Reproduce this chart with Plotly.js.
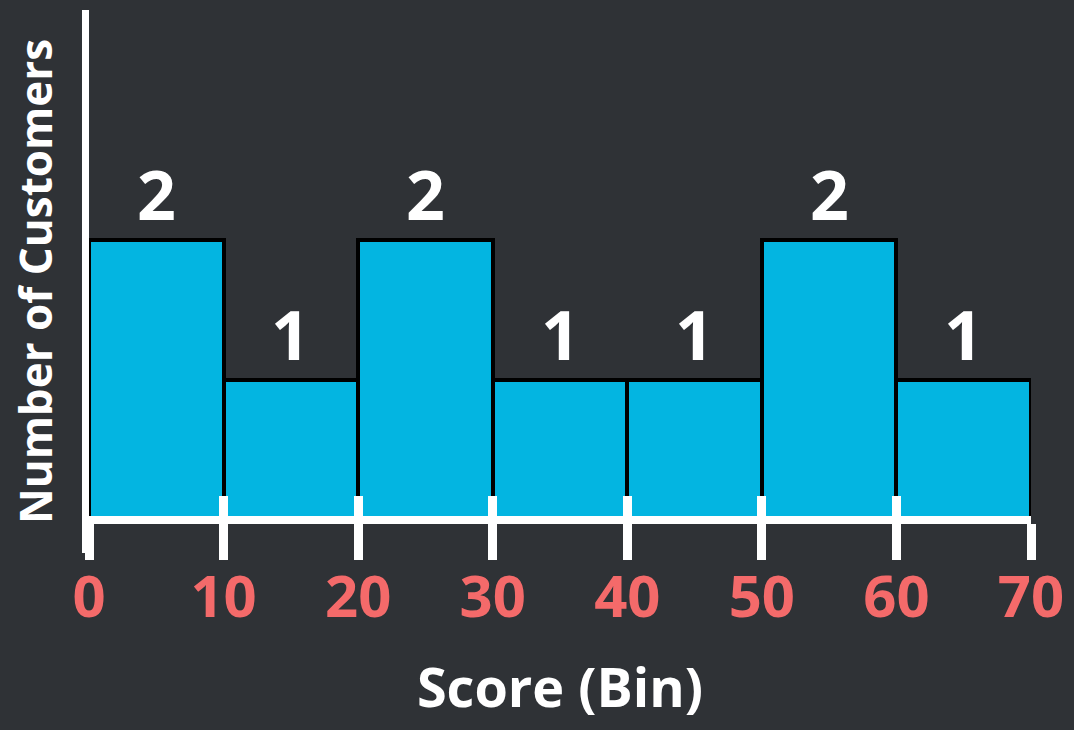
<!DOCTYPE html>
<html>
<head>
<meta charset="utf-8">
<script src="https://cdn.plot.ly/plotly-3.0.1.min.js"></script>
<style>
  html, body { margin: 0; padding: 0; background: #2f3236; }
  #chart { width: 1074px; height: 730px; }
</style>
</head>
<body>
<div id="chart"></div>
<script>
// Data
const binCenters = [5, 15, 25, 35, 45, 55, 65];
const binWidth = 10;
const counts = [2, 1, 2, 1, 1, 2, 1];
const tickValues = [0, 10, 20, 30, 40, 50, 60, 70];
const tickLabels = ["0", "10", "20", "30", "40", "50", "60", "70"];
const xTitle = "Score (Bin)";
const yTitle = "Number of Customers";

const yMin = -0.236, yMax = 3.64;
const axisPos = (0 - yMin) / (yMax - yMin);

const FONT = "'Open Sans', 'DejaVu Sans', sans-serif";
const WHITE = "#ffffff";
const SALMON = "#f46a6a";

const trace = {
  type: "bar",
  x: binCenters,
  y: counts,
  width: binCenters.map(() => binWidth),
  marker: { color: "#03b5e1", line: { color: "#000000", width: 4 } },
  hoverinfo: "x+y",
  showlegend: false
};

const annotations = binCenters.map((c, i) => ({
  x: c, y: counts[i], xref: "x", yref: "y",
  text: String(counts[i]),
  showarrow: false, yanchor: "bottom", yshift: -2,
  font: { family: FONT, size: 68, color: WHITE, weight: 700 }
}));

const layout = {
  width: 1074, height: 730,
  paper_bgcolor: "#2f3236",
  plot_bgcolor: "rgba(0,0,0,0)",
  margin: { l: 89, r: 43, t: 10, b: 177 },
  bargap: 0,
  xaxis: {
    range: [0, 70],
    anchor: "free", position: axisPos,
    showline: true, linecolor: WHITE, linewidth: 8,
    ticks: "outside", ticklen: 36, tickwidth: 9, tickcolor: WHITE,
    tickvals: tickValues, ticktext: tickLabels,
    ticklabelstandoff: -13,
    tickfont: { family: FONT, size: 58, color: SALMON, weight: 700 },
    showgrid: false, zeroline: false,
    layer: "above traces",
    title: { text: xTitle, font: { family: FONT, size: 54, color: WHITE, weight: 700 }, standoff: 36 }
  },
  xaxis2: {
    range: [0, 70], overlaying: "x", matches: "x",
    anchor: "free", position: axisPos, side: "bottom",
    showline: false,
    ticks: "inside", ticklen: 24, tickwidth: 9, tickcolor: WHITE,
    tickvals: tickValues, showticklabels: false,
    showgrid: false, zeroline: false,
    layer: "above traces"
  },
  yaxis: {
    range: [yMin, yMax],
    showline: true, linecolor: WHITE, linewidth: 7,
    ticks: "", showticklabels: false,
    showgrid: false, zeroline: false,
    title: { text: yTitle, font: { family: FONT, size: 44, color: WHITE, weight: 700 }, standoff: 18 }
  },
  annotations: annotations
};

const dummy = { type: "scatter", x: [0], y: [0], xaxis: "x2", mode: "markers", marker: { opacity: 0 }, hoverinfo: "skip", showlegend: false };

Plotly.newPlot("chart", [trace, dummy], layout, { displayModeBar: false, responsive: false });
</script>
</body>
</html>
